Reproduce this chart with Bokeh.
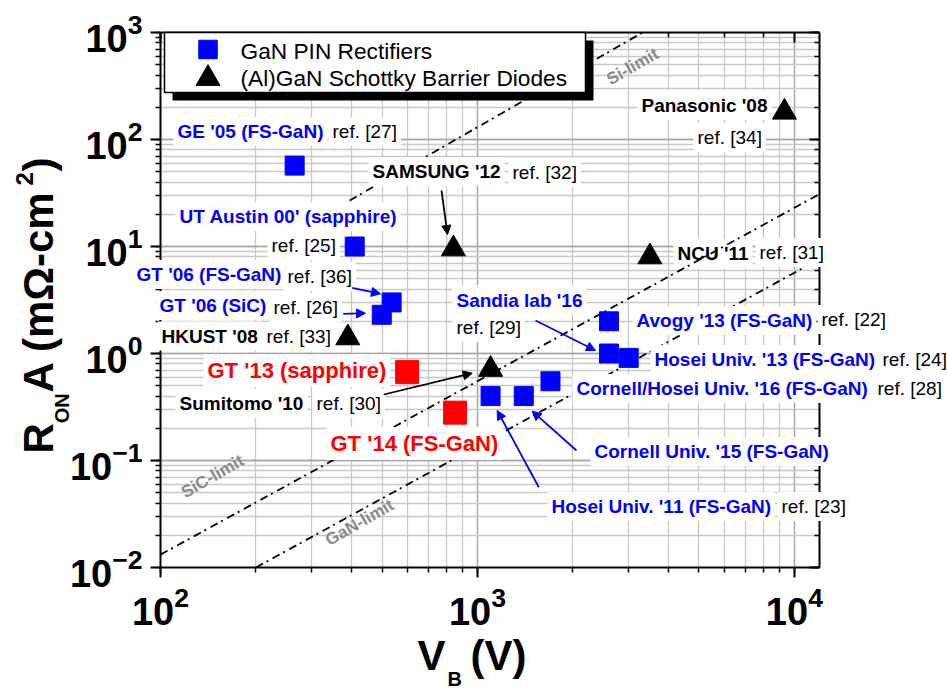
from math import pi

from bokeh.plotting import figure
from bokeh.models import Label, Arrow, NormalHead, LogAxis
from bokeh.embed import file_html
from bokeh.resources import INLINE

# ---------------- data ----------------
# GaN PIN rectifiers (blue squares): breakdown voltage V_B (V), specific on-resistance (mOhm-cm^2)
pin_names = ["GE '05 (FS-GaN)", "UT Austin 00' (sapphire)", "GT '06 (FS-GaN)", "GT '06 (SiC)",
             "Avogy '13 (FS-GaN)", "Sandia lab '16", "Hosei Univ. '13 (FS-GaN)",
             "Cornell/Hosei Univ. '16 (FS-GaN)", "Hosei Univ. '11 (FS-GaN)",
             "Cornell Univ. '15 (FS-GaN)"]
pin_refs = ["ref. [27]", "ref. [25]", "ref. [36]", "ref. [26]", "ref. [22]", "ref. [29]",
            "ref. [24]", "ref. [28]", "ref. [23]", ""]
pin_vb = [265, 410, 536, 499, 2600, 2600, 3000, 1700, 1100, 1400]
pin_ron = [57, 10, 3.0, 2.3, 2.0, 1.0, 0.91, 0.55, 0.40, 0.40]

# Georgia Tech PIN rectifiers (red squares)
gt_names = ["GT '13 (sapphire)", "GT '14 (FS-GaN)"]
gt_vb = [600, 850]
gt_ron = [0.67, 0.28]

# (Al)GaN Schottky barrier diodes (black triangles)
sbd_names = ["Panasonic '08", "SAMSUNG '12", "NCU '11", "HKUST '08", "Sumitomo '10"]
sbd_refs = ["ref. [34]", "ref. [32]", "ref. [31]", "ref. [33]", "ref. [30]"]
sbd_vb = [9300, 840, 3500, 390, 1100]
sbd_ron = [180, 9.5, 8.0, 1.4, 0.71]

# material limits: end points of each straight line on the log-log axes
si_vb, si_ron = [395, 3320], [26.9, 1000]
sic_vb, sic_ron = [100, 12000], [0.0132, 30.9]
gan_vb, gan_ron = [200, 12000], [0.01, 7.64]
limit_names = ["Si-limit", "SiC-limit", "GaN-limit"]

legend_labels = ["GaN PIN Rectifiers", "(Al)GaN Schottky Barrier Diodes"]

# ---------------- layout ----------------
W, H = 947, 689
LEFT, RIGHT, TOP, BOTTOM = 160, 128, 32, 122
FONT = "Liberation Sans"
BLUE, RED, GREY = "#0000ff", "#ff0000", "#8a8a8a"

# ---------------- main plot: axes, grid, limit lines, markers ----------------
p = figure(width=W, height=H, x_axis_type="log", y_axis_type="log",
           x_range=(100, 12000), y_range=(0.01, 1000), title=None,
           output_backend="svg", toolbar_location=None,
           min_border_left=LEFT, min_border_right=RIGHT,
           min_border_top=TOP, min_border_bottom=BOTTOM,
           background_fill_color="white", border_fill_color="white",
           outline_line_color=None)

for g in (p.xgrid[0], p.ygrid[0]):
    g.grid_line_color = "#a3a3a3"
    g.grid_line_width = 1.3
    g.minor_grid_line_color = "#c8c8c8"
    g.minor_grid_line_width = 1.3

# bottom / left axes with labels, ticks pointing out
for ax in (p.xaxis[0], p.yaxis[0]):
    ax.axis_line_width = 2
    ax.axis_line_color = "black"
    ax.major_tick_line_width = 2
    ax.minor_tick_line_width = 1.5
    ax.major_tick_out, ax.major_tick_in = 10, 0
    ax.minor_tick_out, ax.minor_tick_in = 5, 0
    ax.major_label_text_font = FONT
    ax.major_label_text_font_style = "bold"
    ax.major_label_text_font_size = "38px"
    ax.major_label_text_color = "black"
    ax.major_label_standoff = 8

# mirrored top / right axes, ticks pointing in, labels hidden
for side in ("above", "right"):
    ax = LogAxis(axis_line_width=2, major_tick_line_width=2, minor_tick_line_width=1.5,
                 major_tick_in=10, major_tick_out=0, minor_tick_in=5, minor_tick_out=0,
                 major_label_text_font_size="4px", major_label_text_alpha=0,
                 major_label_standoff=0)
    p.add_layout(ax, side)

for xs, ys in ((si_vb, si_ron), (sic_vb, sic_ron), (gan_vb, gan_ron)):
    p.line(xs, ys, line_color="black", line_width=1.8, line_dash="8 4 2 5")

p.scatter(pin_vb, pin_ron, marker="square", size=19, color=BLUE)
p.scatter(gt_vb, gt_ron, marker="square", size=23, color=RED)
p.scatter(sbd_vb, sbd_ron, marker="triangle", size=24, color="black")

# ---------------- text layer: a transparent canvas-sized plot on top ----------------
# its coordinates are canvas pixels (y downwards), so tags may run past the axes box
ov = figure(width=W, height=H, x_range=(0, W), y_range=(H, 0), title=None,
            x_axis_location=None, y_axis_location=None,
            output_backend="svg", toolbar_location=None, min_border=0,
            outline_line_color=None, background_fill_color=None, border_fill_color=None,
            styles={"position": "absolute", "top": "0px", "left": "0px"})
ov.grid.visible = False


def text(fig, s, x, y, color="black", size=19, style="bold", angle=0.0,
         align="left", baseline="middle", bg="white", level="annotation"):
    fig.add_layout(Label(x=x, y=y, text=s, text_font=FONT, text_font_size=f"{size}px",
                         text_font_style=style, text_color=color, angle=angle,
                         text_align=align, text_baseline=baseline,
                         background_fill_color=bg, padding=4 if bg else 0, level=level))


# limit names
limit_pos = [(632, 66), (212, 476), (359, 522)]
for name, (x, y) in zip(limit_names, limit_pos):
    text(ov, name, x, y, color=GREY, size=17, angle=pi / 6, align="center", bg=None)

# legend frame with drop shadow
ov.quad(left=[172], right=[593], top=[40], bottom=[100], fill_color="black", line_color=None)
ov.quad(left=[164], right=[585], top=[32], bottom=[92], fill_color="white",
        line_color="black", line_width=1.5)
ov.scatter([207.5], [49], marker="square", size=18.5, color=BLUE)
ov.scatter([207.5], [78], marker="triangle", size=24, color="black")
text(ov, legend_labels[0], 240, 50, size=22.7, style="normal", bg=None)
text(ov, legend_labels[1], 240, 77, size=22.7, style="normal", bg=None)

# point tags (left edge, vertical centre)
pin_name_pos = [(173, 131), (175, 216), (132, 274), (155, 305), (632, 320), (452, 299.5),
                (650, 359), (572, 388), (547, 506), (590, 451)]
pin_ref_pos = [(328, 131), (267, 245), (283, 276), (269, 307), (817, 319), (452, 327),
               (878, 359), (873, 388), (777, 506), None]
for name, ref, npos, rpos in zip(pin_names, pin_refs, pin_name_pos, pin_ref_pos):
    text(ov, name, *npos, color=BLUE)
    if ref:
        text(ov, ref, *rpos, style="normal")

gt_name_pos = [(203, 370), (326, 443)]
for name, npos in zip(gt_names, gt_name_pos):
    text(ov, name, *npos, color=RED, size=22)

sbd_name_pos = [(637, 104.5), (368, 171), (673, 253), (157, 335.5), (175, 403)]
sbd_ref_pos = [(693, 137), (508, 172), (755, 252), (262, 336), (312, 403)]
for name, ref, npos, rpos in zip(sbd_names, sbd_refs, sbd_name_pos, sbd_ref_pos):
    if name.startswith("NCU"):
        # this tag lies beneath the limit line that crosses it, so it lives in the main plot
        lx, ly = npos
        vb = 10 ** (2 + (lx - LEFT) / (W - LEFT - RIGHT) * 2.0792)
        ron = 10 ** (3 - (ly - TOP) / (H - TOP - BOTTOM) * 5)
        text(p, name, vb, ron, level="underlay")
    else:
        text(ov, name, *npos)
    text(ov, ref, *rpos, style="normal")

# pointer arrows (tail -> head)
arrows = [((441, 190), (447, 234), "black"),
          ((351.7, 287.3), (380, 293.3), BLUE),
          ((342.7, 313.3), (365, 312.7), BLUE),
          ((383.3, 394), (471.7, 372.7), "black"),
          ((535, 320), (595, 350), BLUE),
          ((538.3, 486.7), (496.7, 410), BLUE),
          ((576, 450), (531.7, 410.7), BLUE)]
for (x0, y0), (x1, y1), c in arrows:
    ov.add_layout(Arrow(x_start=x0, y_start=y0, x_end=x1, y_end=y1, line_color=c,
                        line_width=1.8,
                        end=NormalHead(size=9, fill_color=c, line_color=c, line_width=1)))

# axis titles built from pieces so the sub/superscripts can be sized
for s, x, y, size in (("R", 38, 453, 42), ("ON", 61, 422.7, 20),
                      ("A (m\u03a9-cm", 38, 392, 42), ("2", 23.5, 185, 24), (")", 38, 171, 42)):
    text(ov, s, x, y, size=size, angle=pi / 2, bg=None)
for s, x, y, size in (("V", 417, 655, 42), ("B", 447, 678, 20), ("(V)", 470, 655, 42)):
    text(ov, s, x, y, size=size, bg=None)

open("out.html", "w").write(file_html([p, ov], INLINE))
